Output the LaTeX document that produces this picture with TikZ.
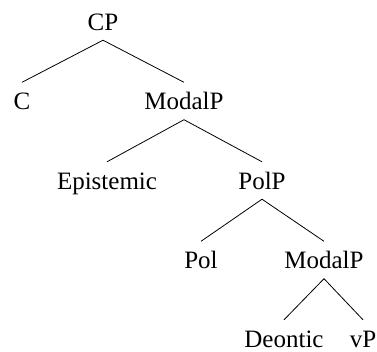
\documentclass[tikz,border=0pt]{standalone}
\usepackage{fontspec}
\setmainfont{Liberation Serif}

\begin{document}
\begin{tikzpicture}[x=1pt,y=-1pt,
  cat/.style={anchor=base,inner xsep=0pt,inner ysep=10pt,text height=17pt,text depth=0pt,
    font=\fontsize{25}{30}\selectfont},
  branch/.style={line width=0.8pt}]
\useasboundingbox (0,0) rectangle (377,351);
\node[cat] (cp) at (103,30) {CP};
\node[cat] (c) at (22,109.5) {C};
\node[cat] (modalp) at (184,109.5) {ModalP};
\node[cat] (epist) at (107,189) {Epistemic};
\node[cat] (polp) at (262,189) {PolP};
\node[cat] (pol) at (201,268.5) {Pol};
\node[cat] (modalpb) at (324,268.5) {ModalP};
\node[cat] (deont) at (284,347) {Deontic};
\node[cat] (vp) at (363,347) {vP};
\foreach \m/\d in {cp/c,cp/modalp,modalp/epist,modalp/polp,polp/pol,polp/modalpb,modalpb/deont,modalpb/vp}
\draw[branch] (\m.south) -- (\d.north);
\end{tikzpicture}
\end{document}
